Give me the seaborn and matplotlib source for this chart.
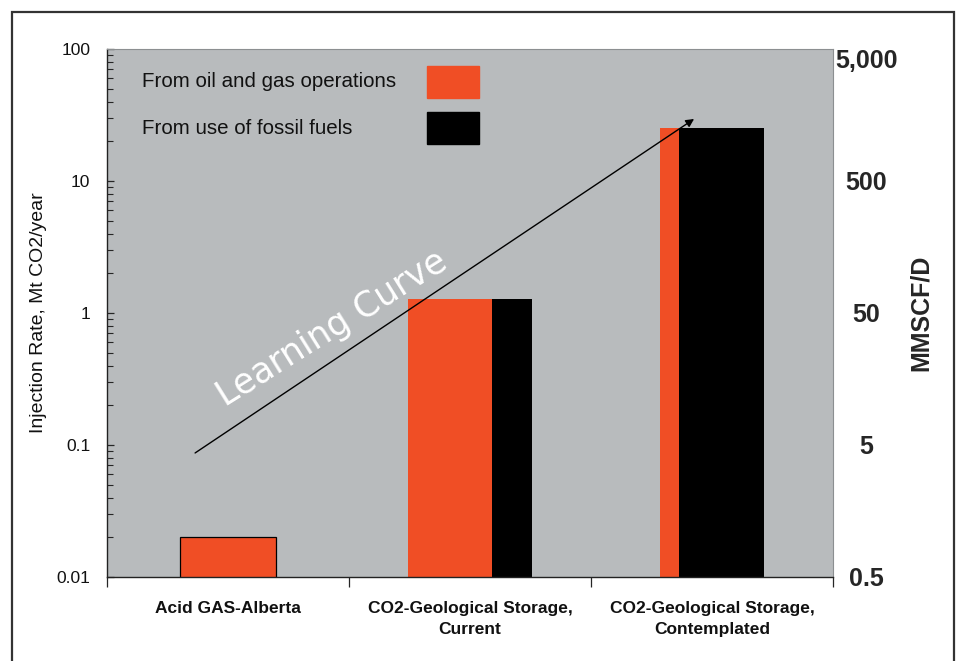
import numpy as np
import matplotlib
matplotlib.use("Agg")
import matplotlib.pyplot as plt
from matplotlib.patches import Rectangle
import seaborn as sns

# Data
categories = ["Acid GAS-Alberta",
              "CO2-Geological Storage,\nCurrent",
              "CO2-Geological Storage,\nContemplated"]
oil_gas_rate = [0.02, 1.28, 25.0]          # Mt CO2/year
fossil_rate = [np.nan, 1.28, 25.0]         # Mt CO2/year
oil_gas_share = [1.0, 0.68, 0.18]          # part of each bar from oil and gas operations
series_names = ["From oil and gas operations", "From use of fossil fuels"]
right_ticks = [0.5, 5, 50, 500, 5000]
right_labels = ["0.5", "5", "50", "500", "5,000"]
left_ticks = [0.01, 0.1, 1, 10, 100]
left_labels = ["0.01", "0.1", "1", "10", "100"]

# Layout / style
bar_width = [0.40, 0.51, 0.43]
ORANGE = "#F04E25"
BLACK = "#000000"
PANEL = "#B8BBBD"

sns.set_style("white")
plt.rcParams['font.family'] = ['Liberation Sans', 'DejaVu Sans']

fig = plt.figure(figsize=(9.58, 6.61), dpi=100)
ax = fig.add_axes([0.1117, 0.1271, 0.7578, 0.7988])
ax.set_facecolor(PANEL)

x = np.arange(len(categories))
for i in x:
    w = bar_width[i]
    left = i - w / 2
    w_og = w * oil_gas_share[i]
    solo = oil_gas_share[i] == 1
    ax.bar(left, oil_gas_rate[i], width=w_og, align='edge',
           color=ORANGE, edgecolor=BLACK if solo else ORANGE,
           linewidth=0.9 if solo else 0, zorder=2)
    if not np.isnan(fossil_rate[i]):
        ax.bar(left + w_og, fossil_rate[i], width=w - w_og, align='edge',
               color=BLACK, linewidth=0, zorder=2)

ax.set_yscale('log')
ax.set_ylim(0.01, 100)
ax.set_xlim(-0.5, 2.5)
ax.set_yticks(left_ticks)
ax.set_yticklabels(left_labels, fontsize=12.5, color='#111111')
ax.tick_params(axis='y', which='major', direction='in', length=5, width=0.9,
               pad=12, left=True)
ax.tick_params(axis='y', which='minor', direction='in', length=4, width=0.8,
               left=True)
ax.set_ylabel("Injection Rate, Mt CO2/year", fontsize=14, labelpad=7,
              color='#111111')

# category boundaries carry the tick marks, centres carry the labels
ax.set_xticks([-0.5, 0.5, 1.5, 2.5])
ax.set_xticklabels([])
ax.set_xticks(x, minor=True)
ax.set_xticklabels(categories, minor=True, fontsize=12.5, fontweight='bold',
                   linespacing=1.5, color='#111111')
ax.tick_params(axis='x', which='major', direction='out', length=7, width=0.9,
               bottom=True)
ax.tick_params(axis='x', which='minor', length=0, pad=17)

for side in ['left', 'bottom']:
    ax.spines[side].set_color('#222222')
    ax.spines[side].set_linewidth(1.0)
for side in ['top', 'right']:
    ax.spines[side].set_color('#8C8F91')
    ax.spines[side].set_linewidth(0.8)

# secondary axis in MMSCF/D
ax2 = ax.twinx()
ax2.set_yscale('log')
ax2.set_ylim(0.5, 5000)
ax2.set_yticks(right_ticks)
ax2.set_yticklabels(right_labels, fontsize=18, fontweight='bold', ha='center')
ax2.yaxis.set_minor_locator(matplotlib.ticker.NullLocator())
ax2.tick_params(axis='y', length=0, pad=24)
ax2.get_yticklabels()[-1].set_va('top')
ax2.set_ylabel("MMSCF/D", fontsize=18, fontweight='bold', labelpad=8)
for s in ax2.spines.values():
    s.set_visible(False)

# learning curve arrow
ax.annotate("", xy=(1.926, 29.5), xytext=(-0.136, 0.087),
            arrowprops=dict(arrowstyle='-|>', color='black', lw=1.0,
                            mutation_scale=12, shrinkA=0, shrinkB=0),
            zorder=3)
ax.text(0.43, 0.76, "Learning Curve", color='white', fontsize=25,
        rotation=32, rotation_mode='anchor', ha='center', va='center',
        family=['DejaVu Sans'], zorder=3)

# legend: labels on the left, swatches on the right
swatch_colors = [ORANGE, BLACK]
for k, (name, col) in enumerate(zip(series_names, swatch_colors)):
    y_mid = 0.9375 - k * 0.0875
    ax.text(0.048, y_mid, name, transform=ax.transAxes, fontsize=14.8,
            ha='left', va='center', color='#111111')
    ax.add_patch(Rectangle((0.441, y_mid - 0.030), 0.072, 0.060,
                           transform=ax.transAxes, facecolor=col,
                           edgecolor=col, zorder=4))

# outer frame
fig.patches.append(Rectangle((12 / 958, -0.05), 942 / 958, 1.05 - 12 / 661,
                             transform=fig.transFigure, fill=False,
                             edgecolor='#333333', linewidth=1.6))

fig.savefig("out.png", dpi=100)
